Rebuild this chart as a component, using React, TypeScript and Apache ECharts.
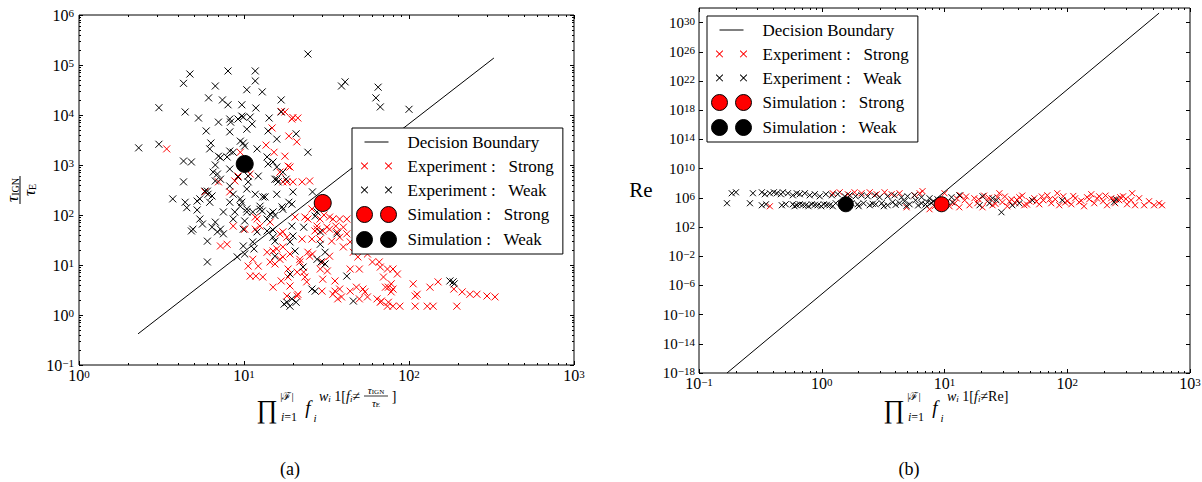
import React, { useEffect, useRef } from 'react';
import * as echarts from 'echarts';

const SERIF = 'Liberation Serif';
const MATH = 'Liberation Serif';
const RED = '#ff0000';

// ---------------- Panel (a) data ----------------
const boundaryA: number[][] = [[2.28, 0.42], [327, 1.38e5]];
const simStrongA: number[][] = [[30, 174]];
const simWeakA: number[][] = [[10.1, 1050]];
const expWeakA: number[][] = [
  [2.3, 2200], [3.05, 14000], [3.05, 2600], [4.3, 43000], [4.7, 66000], [4.4, 11500], [4.3, 1200], [4.8, 1150], [4.3, 460], [3.7, 210],
  [5.3, 8700], [5.9, 4800], [6.1, 22000], [6.7, 38000], [7.4, 20000], [8.0, 16000], [8.0, 76000], [7.0, 7200], [6.3, 2750], [6.2, 2100],
  [7.0, 1500], [8.2, 4600], [8.2, 8300], [9.7, 16000], [9.9, 9100], [10.4, 32000], [11.7, 76000], [11.7, 48000], [11.8, 13800], [12.9, 29000],
  [9.5, 3000], [10.1, 2400], [12, 2100], [14.2, 8700], [14, 4800], [16.8, 20000], [16.8, 11500], [15.8, 3300], [20.7, 4200], [24.4, 166000],
  [24.4, 1800], [13.8, 1450], [15, 1150], [6.7, 1000], [6.5, 720], [7.2, 520], [6.0, 300], [5.4, 210], [6.4, 240], [5.4, 83],
  [4.4, 180], [4.5, 140], [5.2, 126], [8.2, 380], [8.6, 260], [9.5, 210], [9.5, 150], [10.4, 115], [10.6, 600], [12.2, 600],
  [13, 230], [12.5, 150], [15.8, 520], [18, 520], [19.8, 290], [18.7, 180], [17.2, 130], [15, 115], [13.8, 83],
  [11.3, 115], [26, 290], [39, 38000], [41, 46000], [65, 36000], [63, 22000], [67, 14500], [100, 13000], [27, 95], [23, 57],
  [5.2, 190], [4.9, 52], [4.8, 48], [6.0, 30], [6.0, 11.5], [5.8, 300], [6.05, 260], [6.2, 180], [6.9, 660], [6.7, 480],
  [7.2, 1400], [7.9, 1450], [8.6, 1800], [8.2, 830], [9.2, 575], [10.4, 330], [10.6, 460], [9.7, 180], [8.2, 180], [7.5, 115],
  [8.8, 115], [8.6, 83], [6.7, 72], [6.4, 57], [7.2, 52], [6.9, 46], [7.5, 42], [5.6, 66], [10.4, 132], [10.1, 76],
  [12, 46], [12.9, 120], [13.4, 230], [11.7, 260], [14, 1050], [15.8, 910], [15.4, 520], [16.1, 460], [15.8, 260], [17.2, 720],
  [19.5, 165], [15, 36], [15.4, 15], [9.9, 24], [10.1, 16.6], [9.1, 14.5], [19.5, 60], [19.8, 38], [29, 46], [29, 26],
  [27.7, 13], [31, 10.5], [9.9, 52], [12.5, 130], [14.4, 105], [15.4, 98], [17, 145], [13.8, 48], [15, 50], [15.4, 30],
  [11.3, 29], [19, 29], [20.4, 19], [22.8, 9.1], [25.8, 3.3], [27.7, 115], [31, 18], [36.6, 42], [42, 6.0], [46, 1.9],
  [18.2, 1.8], [19, 1.5], [19.5, 2.1], [17.5, 1.65], [177, 4.8], [185, 4.6], [188, 4.2], [11.5, 21], [19, 6.6], [20.7, 1.8],
  [27, 3.0], [29.3, 11.5], [8.3, 7200], [9.2, 8300], [10.9, 9100], [11.2, 6600], [10.4, 5200], [9.9, 2750], [8.2, 1900], [9.7, 9500],
];
const expStrongA: number[][] = [
  [3.4, 2100], [14.8, 5500], [13.6, 2500], [15.2, 1800], [17.7, 11500], [19.5, 8300], [21.2, 8700], [18.7, 3800], [20.9, 2900], [17.7, 1500],
  [19, 910], [16.5, 720], [18.2, 460], [19.8, 460], [22.5, 460], [25, 480], [7.0, 460], [8.8, 480], [8.2, 290], [5.8, 290],
  [9.5, 1800], [10.9, 660], [9.2, 600], [12, 83], [10.1, 52], [11.7, 52], [7.2, 24], [7.9, 26], [8.6, 60], [20.4, 91],
  [23.4, 91], [25.8, 132], [28.9, 83], [27.7, 52], [31.8, 57], [34.6, 83], [36.6, 46], [34, 30], [28.9, 33], [25.8, 33],
  [22.5, 33], [18.2, 36], [16.5, 42], [17.2, 23], [15.8, 21], [13.8, 18], [14.4, 11.5], [16.5, 13], [19, 16.6], [21.8, 13],
  [25, 15], [33, 15], [10.6, 9.5], [12.2, 9.5], [11.7, 91], [12.5, 60], [14.4, 72], [17.2, 46], [24.4, 83], [26.9, 48],
  [30, 48], [38, 83], [40, 57], [42, 42], [44, 29], [40, 23], [46, 18], [49, 14.5], [56, 16.6], [60, 11.5],
  [67, 9.1], [74, 8.3], [80, 8.3], [85, 6.6], [70, 5.75], [11.3, 13], [13, 5.75], [15, 3.6], [15.4, 10.5], [18.5, 8.3],
  [21, 7.2], [23.4, 5.75], [18.5, 5.75], [19, 3.8], [21, 2.4], [24, 4.6], [29.7, 3.0], [34.6, 2.6], [38, 3.3], [39, 2.3],
  [44, 3.0], [48, 3.6], [54, 2.9], [56, 2.3], [50, 2.1], [64, 2.1], [67, 1.8], [74, 1.5], [80, 1.5], [88, 1.5],
  [75, 3.6], [80, 3.3], [78, 4.2], [106, 4.2], [109, 2.4], [109, 1.5], [129, 1.5], [140, 1.5], [134, 3.6], [150, 4.6],
  [195, 1.5], [210, 2.9], [234, 2.6], [258, 2.6], [297, 2.4], [332, 2.3], [30, 11.5], [26, 16.6], [29, 8.3], [32, 7.6],
  [35.6, 4.8], [44, 8.3], [50, 8.3], [15, 19], [10.9, 6.0], [11.8, 6.0], [16.8, 4.8], [17.2, 14.5], [18.2, 2.4], [21.2, 2.6],
  [23, 7.2], [21.8, 11.5], [24.4, 18], [30, 5.2], [35.6, 3.0], [37, 2.1], [52.6, 3.3], [68, 1.9], [75, 1.8], [72, 3.6],
  [78, 2.9], [112, 2.6], [187, 3.3], [66, 11.5], [50, 21], [16.8, 11800], [19.8, 8900], [18.5, 950], [17.2, 460], [42, 83],
  [33, 52], [27.7, 60], [30.5, 100], [33, 91], [36, 60], [38, 36],
];

// ---------------- Panel (b) data ----------------
const boundaryB: number[][] = [[0.169, 1e-18], [560, 2e31]];
const simStrongB: number[][] = [[9.47, 1.3e5]];
const simWeakB: number[][] = [[1.57, 1.3e5]];
const expWeakB: number[][] = [
  [0.169, 1.8e5], [0.185, 4.2e6], [0.2, 5.7e6], [0.26, 1.8e5], [0.275, 4.2e6], [0.325, 5.7e6], [0.344, 3.1e6], [0.378, 4.2e6], [0.407, 5.7e6], [0.431, 4.2e6],
  [0.464, 3.1e6], [0.482, 5.7e6], [0.53, 4.2e6], [0.581, 2.2e6], [0.626, 4.2e6], [0.662, 3.1e6], [0.728, 4.2e6], [0.798, 2.2e6], [0.877, 3.1e6], [0.963, 1.6e6],
  [1.08, 3.1e6], [1.21, 2.2e6], [1.35, 3.1e6], [1.54, 1.6e6], [1.69, 2.2e6], [1.89, 1.6e6], [2.11, 2.2e6], [2.37, 1.6e6], [2.7, 2.2e6], [2.96, 1.2e6],
  [3.44, 1.6e6], [3.92, 2.2e6], [4.47, 1.2e6], [5.0, 1.6e6], [5.7, 2.2e6], [6.5, 1.2e6], [7.55, 8.7e5],
  [0.325, 9.5e4], [0.351, 1.3e5], [0.473, 9.5e4], [0.509, 1.3e5], [0.581, 1.3e5], [0.626, 9.5e4], [0.662, 1.3e5], [0.741, 9.5e4], [0.83, 1.3e5], [0.927, 9.5e4],
  [1.04, 1.3e5], [1.16, 9.5e4], [1.3, 1.8e5], [1.75, 1.8e5], [1.96, 1.3e5], [2.19, 1.8e5], [2.46, 9.5e4], [2.75, 1.3e5], [3.08, 1.8e5], [3.44, 9.5e4],
  [3.78, 2.5e5], [4.3, 1.8e5], [4.73, 3.4e5], [5.19, 1.3e5], [5.81, 4.6e5], [6.5, 1.8e5], [7.28, 2.5e5], [8.14, 3.4e5], [8.77, 6.3e5],
  [11.4, 1.2e6], [11.6, 2.5e5], [13.2, 2.2e6], [19.3, 9.5e4], [20.4, 1.6e6], [23.2, 1.8e5], [24.6, 8.7e5], [26.5, 4.6e5], [29.1, 1.05e4], [35.7, 9.5e4],
  [40.7, 1.8e5], [51.9, 4.6e5], [91, 4.6e5], [241, 2.5e5], [250, 6.3e5],
  [0.6, 7e4], [0.7, 1.1e5], [0.78, 7e4], [0.88, 1.1e5], [0.99, 7e4], [1.1, 1.1e5], [1.23, 7e4], [1.45, 1.5e5], [2.0, 7e4], [2.6, 1.5e5],
  [3.2, 7e4], [4.0, 1.1e5], [4.9, 8e4], [6.1, 9e4], [7.0, 1.2e5], [7.8, 2e5],
];
const expStrongB: number[][] = [
  [0.378, 6.9e4], [1.23, 4.2e6], [1.4, 5.7e6], [1.63, 3.1e6], [1.85, 5.7e6], [2.11, 4.2e6], [2.46, 5.7e6], [2.8, 3.1e6], [3.25, 5.7e6], [3.71, 3.1e6],
  [4.3, 4.2e6], [4.91, 5e4], [5.7, 2.2e6], [6.27, 4.2e6], [6.62, 8.1e6], [7.55, 2.7e4], [8.3, 6.9e4],
  [10.0, 4.2e6], [11.0, 6.9e4], [12.1, 1.8e5], [13.2, 5e4], [13.5, 2.2e6], [14.6, 4.6e5], [16.0, 9.5e4], [17.5, 8.7e5], [18.5, 1.8e5], [20.4, 5e4],
  [22.4, 3.4e5], [24.6, 9.5e4], [27.0, 1.2e6], [28.0, 4.2e6], [29.6, 2.5e5], [32.5, 6.9e4], [35.1, 6.3e5], [37.8, 1.8e5], [40.7, 1.2e6], [44.7, 9.5e4],
  [49.1, 3.4e5], [53.9, 8.7e5], [59.2, 1.3e5], [63.8, 4.6e5], [68.8, 2.2e6], [74.1, 1.8e5], [79.8, 6.3e5], [82.9, 4.2e6], [86.1, 9.5e4], [92.8, 1.6e6],
  [100, 3.4e5], [108, 1.3e5], [116, 8.7e5], [125, 2.5e5], [137, 6.9e4], [151, 6.3e5], [157, 3.1e6], [166, 1.8e5], [182, 1.6e6], [196, 3.4e5],
  [211, 9.5e4], [228, 8.7e5], [246, 1.8e5], [265, 4.6e5], [285, 1.6e6], [307, 1.3e5], [331, 4.6e5], [338, 4.2e6], [357, 9.5e4], [385, 8.7e5],
  [423, 9.5e4], [464, 3.4e5], [510, 9.5e4], [560, 1.8e5], [592, 9.5e4],
  [10.5, 2.5e5], [12.6, 8e5], [15, 1.5e6], [19, 6e5], [21, 2e6], [23, 1e6], [26, 1.5e5], [31, 1.5e6], [34, 3e5], [39, 5e5],
  [43, 2e6], [47, 1.2e5], [56, 3e5], [62, 1.5e6], [72, 6e5], [96, 2.2e5], [112, 1.8e6], [130, 4e5], [145, 1.2e6], [175, 8e5],
  [205, 2e6], [240, 6e5], [270, 1.2e6], [300, 7e5],
];

// ---------------- Tick values ----------------
const xMajorA = [1, 10, 100, 1000];
const yMajorA = [0.1, 1, 10, 100, 1000, 1e4, 1e5, 1e6];
const xMajorB = [0.1, 1, 10, 100, 1000];
const yMajorB = [1e-18, 1e-14, 1e-10, 1e-6, 1e-2, 1e2, 1e6, 1e10, 1e14, 1e18, 1e22, 1e26, 1e30];
const minorSteps = [2, 3, 4, 5, 6, 7, 8, 9];
const minorsOf = (majors: number[]) => majors.slice(0, -1).flatMap((m) => minorSteps.map((k) => k * m));

const legendNames = ['Decision Boundary', 'Experiment : Strong', 'Experiment : Weak', 'Simulation : Strong', 'Simulation : Weak'];

const supLabel = (v: number) => {
  const e = Math.round(Math.log10(v));
  return `{b|10}{s|${e < 0 ? '\u2212' + -e : e}}`;
};

const labelRich = (size: number) => ({
  b: { fontFamily: SERIF, fontSize: size, color: '#000', lineHeight: 15 },
  s: { fontFamily: SERIF, fontSize: Math.round(size * 0.7), color: '#000', lineHeight: 9, verticalAlign: 'top' },
});

function logAxis(gridIndex: number, min: number, max: number, position: string, ticks: number[], len: number, label?: any) {
  return {
    type: 'log', logBase: 10, gridIndex, min, max, position,
    axisLine: { show: false, onZero: false },
    splitLine: { show: false },
    axisTick: { show: true, inside: true, length: len, customValues: ticks, lineStyle: { color: '#000', width: 1 } },
    axisLabel: label
      ? { show: true, customValues: ticks, formatter: supLabel, color: '#000', fontFamily: SERIF, ...label }
      : { show: false },
  };
}

// filled thin "x" glyphs (two per icon), so the colour comes from the fill
const xGlyph = (cx: number) =>
  `M${cx - 3.8},${9.3}L${cx - 3.1},${8.6}L${cx + 3.8},${15.5 - 5}L${cx + 3.1},${16.2 - 5}Z` +
  `M${cx + 3.1},${8.6 - 0}L${cx + 3.8},${9.3}L${cx - 3.1},${16.2 - 5}L${cx - 3.8},${15.5 - 5}Z`;
const X_ICON = `path://M0,0M46,20` +
  `M4.3,6.9L5.0,6.2L11.7,12.9L11.0,13.6Z M11.0,6.2L11.7,6.9L5.0,13.6L4.3,12.9Z` +
  `M28.3,6.9L29.0,6.2L35.7,12.9L35.0,13.6Z M35.0,6.2L35.7,6.9L29.0,13.6L28.3,12.9Z`;
void xGlyph;
const LINE_ICON = 'path://M0,0M46,20M8,9.5L32,9.5L32,10.5L8,10.5Z';
const CIRC_ICON = 'path://M0,0M46,20M16,10A8,8,0,1,1,0,10A8,8,0,1,1,16,10ZM40,10A8,8,0,1,1,24,10A8,8,0,1,1,40,10Z';
const X_SYMBOL = 'path://M0,0L10,10M10,0L0,10';

function legendFor(id: string, left: number, top: number) {
  return {
    id, orient: 'vertical', left, top, padding: [4, 9, 4, 4],
    itemWidth: 46, itemHeight: 20, itemGap: 4,
    backgroundColor: '#fff', borderColor: '#000', borderWidth: 1, borderRadius: 0,
    selectedMode: false,
    formatter: (name: string) => name.replace(' : ', ' :   '),
    textStyle: { fontFamily: SERIF, fontSize: 17, color: '#000' },
    data: [
      { name: legendNames[0], icon: LINE_ICON, itemStyle: { color: '#000', borderWidth: 0, opacity: 1 } },
      { name: legendNames[1], icon: X_ICON, itemStyle: { color: RED, borderColor: RED, borderWidth: 0, opacity: 1 } },
      { name: legendNames[2], icon: X_ICON, itemStyle: { color: '#000', borderColor: '#000', borderWidth: 0, opacity: 1 } },
      { name: legendNames[3], icon: CIRC_ICON, itemStyle: { color: RED, borderColor: '#000', borderWidth: 1, opacity: 1 } },
      { name: legendNames[4], icon: CIRC_ICON, itemStyle: { color: '#000', borderColor: '#000', borderWidth: 1, opacity: 1 } },
    ],
  };
}

function seriesFor(xi: number, yi: number, boundary: number[][], strong: number[][], weak: number[][], simS: number[][], simW: number[][], xSize: number, cSize: number) {
  const base = { xAxisIndex: xi, yAxisIndex: yi };
  return [
    { ...base, type: 'line', name: legendNames[0], data: boundary, symbol: 'none', showSymbol: false, lineStyle: { color: '#000', width: 1 }, itemStyle: { color: '#000' }, z: 3 },
    { ...base, type: 'scatter', name: legendNames[1], data: strong, symbol: X_SYMBOL, symbolSize: xSize, itemStyle: { color: RED, borderColor: RED, borderWidth: 1, opacity: 1 }, z: 2 },
    { ...base, type: 'scatter', name: legendNames[2], data: weak, symbol: X_SYMBOL, symbolSize: xSize, itemStyle: { color: '#000', borderColor: '#000', borderWidth: 1, opacity: 1 }, z: 2 },
    { ...base, type: 'scatter', name: legendNames[3], data: simS, symbol: 'circle', symbolSize: cSize, itemStyle: { color: RED, borderColor: '#000', borderWidth: 1, opacity: 1 }, z: 3 },
    { ...base, type: 'scatter', name: legendNames[4], data: simW, symbol: 'circle', symbolSize: cSize, itemStyle: { color: '#000', borderColor: '#000', borderWidth: 1, opacity: 1 }, z: 3 },
  ];
}

const txt = (x: number, y: number, text: string, fontSize: number, extra: any = {}) => ({
  type: 'text', x, y,
  style: { text, fontFamily: MATH, fontSize, fill: '#000', align: 'center', verticalAlign: 'middle', ...extra },
});

const itRich = (size: number, sub: number) => ({
  it: { fontFamily: MATH, fontSize: size, fontStyle: 'italic' },
  rm: { fontFamily: MATH, fontSize: size },
  sb: { fontFamily: MATH, fontSize: sub, fontStyle: 'italic', verticalAlign: 'bottom' },
  su: { fontFamily: MATH, fontSize: sub, verticalAlign: 'bottom' },
});

function prodLabel(px: number, tail: any[]) {
  return [
    txt(px, 409, '\u220F', 26),
    txt(px + 20, 396, '|\u2131|', 11),
    txt(px + 22, 417, '{it|i}{rm|=1}', 12, { rich: itRich(12, 9) }),
    txt(px + 41, 407, 'f', 19, { fontStyle: 'italic' }),
    txt(px + 48, 418, 'i', 11, { fontStyle: 'italic' }),
    ...tail,
  ];
}

export default function App() {
  const ref = useRef<HTMLDivElement>(null);
  useEffect(() => {
    if (!ref.current) return;
    const chart = echarts.init(ref.current, undefined, { renderer: 'svg' });
    const gA = { left: 79, top: 15, width: 495, height: 350 };
    const gB = { left: 699, top: 8, width: 491, height: 365 };
    const grids = [gA, gB].map((g) => ({ ...g, show: true, borderColor: '#000', borderWidth: 1, backgroundColor: 'rgba(0,0,0,0)', containLabel: false, outerBoundsMode: 'none' }));

    const xAxes = [
      logAxis(0, 1, 1000, 'bottom', xMajorA, 4, { margin: 3, rich: labelRich(16) }),
      logAxis(0, 1, 1000, 'top', xMajorA, 4),
      logAxis(0, 1, 1000, 'bottom', minorsOf(xMajorA), 2),
      logAxis(0, 1, 1000, 'top', minorsOf(xMajorA), 2),
      logAxis(1, 0.1, 1000, 'bottom', xMajorB, 4, { margin: 3, rich: labelRich(16) }),
      logAxis(1, 0.1, 1000, 'top', xMajorB, 4),
      logAxis(1, 0.1, 1000, 'bottom', minorsOf(xMajorB), 2),
      logAxis(1, 0.1, 1000, 'top', minorsOf(xMajorB), 2),
    ];
    const yAxes = [
      logAxis(0, 0.1, 1e6, 'left', yMajorA, 4, { margin: 5, rich: labelRich(16) }),
      logAxis(0, 0.1, 1e6, 'right', yMajorA, 4),
      logAxis(0, 0.1, 1e6, 'left', minorsOf(yMajorA), 2),
      logAxis(0, 0.1, 1e6, 'right', minorsOf(yMajorA), 2),
      logAxis(1, 1e-18, 1e32, 'left', yMajorB, 4, { margin: 4, rich: labelRich(15) }),
      logAxis(1, 1e-18, 1e32, 'right', yMajorB, 4),
    ];

    const fracA = [
      txt(376, 390, '{it|\u03C4}{su|IGN}', 11, { rich: itRich(11, 7) }),
      { type: 'line', shape: { x1: 364, y1: 396, x2: 388, y2: 396 }, style: { stroke: '#000', lineWidth: 0.8 } },
      txt(376, 403, '{it|\u03C4}{su|E}', 11, { rich: itRich(11, 7) }),
    ];

    const graphic = [
      {
        type: 'group', x: 20, y: 190, rotation: Math.PI / 2,
        children: [
          txt(0, -8, '{it|\u03C4}{su|IGN}', 17, { rich: itRich(17, 10) }),
          { type: 'line', shape: { x1: -14, y1: 0, x2: 14, y2: 0 }, style: { stroke: '#000', lineWidth: 1 } },
          txt(0, 9, '{it|\u03C4}{su|E}', 17, { rich: itRich(17, 10) }),
        ],
      },
      txt(641, 190, 'Re', 21, { fontFamily: SERIF }),
      { type: 'group', children: prodLabel(267, [
        txt(319, 396, '{it|w}{sb|i}{rm| 1[}{it|f}{sb|i}{rm|\u2260}', 14, { rich: itRich(14, 9), align: 'left' }),
        ...fracA,
        txt(394, 396, ']', 14),
      ]) },
      { type: 'group', children: prodLabel(894, [
        txt(947, 396, '{it|w}{sb|i}{rm| 1[}{it|f}{sb|i}{rm|\u2260Re]}', 14, { rich: itRich(14, 9), align: 'left' }),
      ]) },
      txt(290, 469, '(a)', 18, { fontFamily: SERIF }),
      txt(909, 469, '(b)', 18, { fontFamily: SERIF }),
    ];

    chart.setOption({
      animation: false,
      backgroundColor: '#fff',
      grid: grids,
      xAxis: xAxes,
      yAxis: yAxes,
      legend: [legendFor('legendA', 352, 128), legendFor('legendB', 707, 16)],
      series: [
        ...seriesFor(0, 0, boundaryA, expStrongA, expWeakA, simStrongA, simWeakA, 7, 17),
        ...seriesFor(4, 4, boundaryB, expStrongB, expWeakB, simStrongB, simWeakB, 6, 15),
      ],
      graphic,
    });
    return () => chart.dispose();
  }, []);
  return <div ref={ref} style={{ position: 'absolute', left: 0, top: 0, width: 1202, height: 482, background: '#fff' }} />;
}
